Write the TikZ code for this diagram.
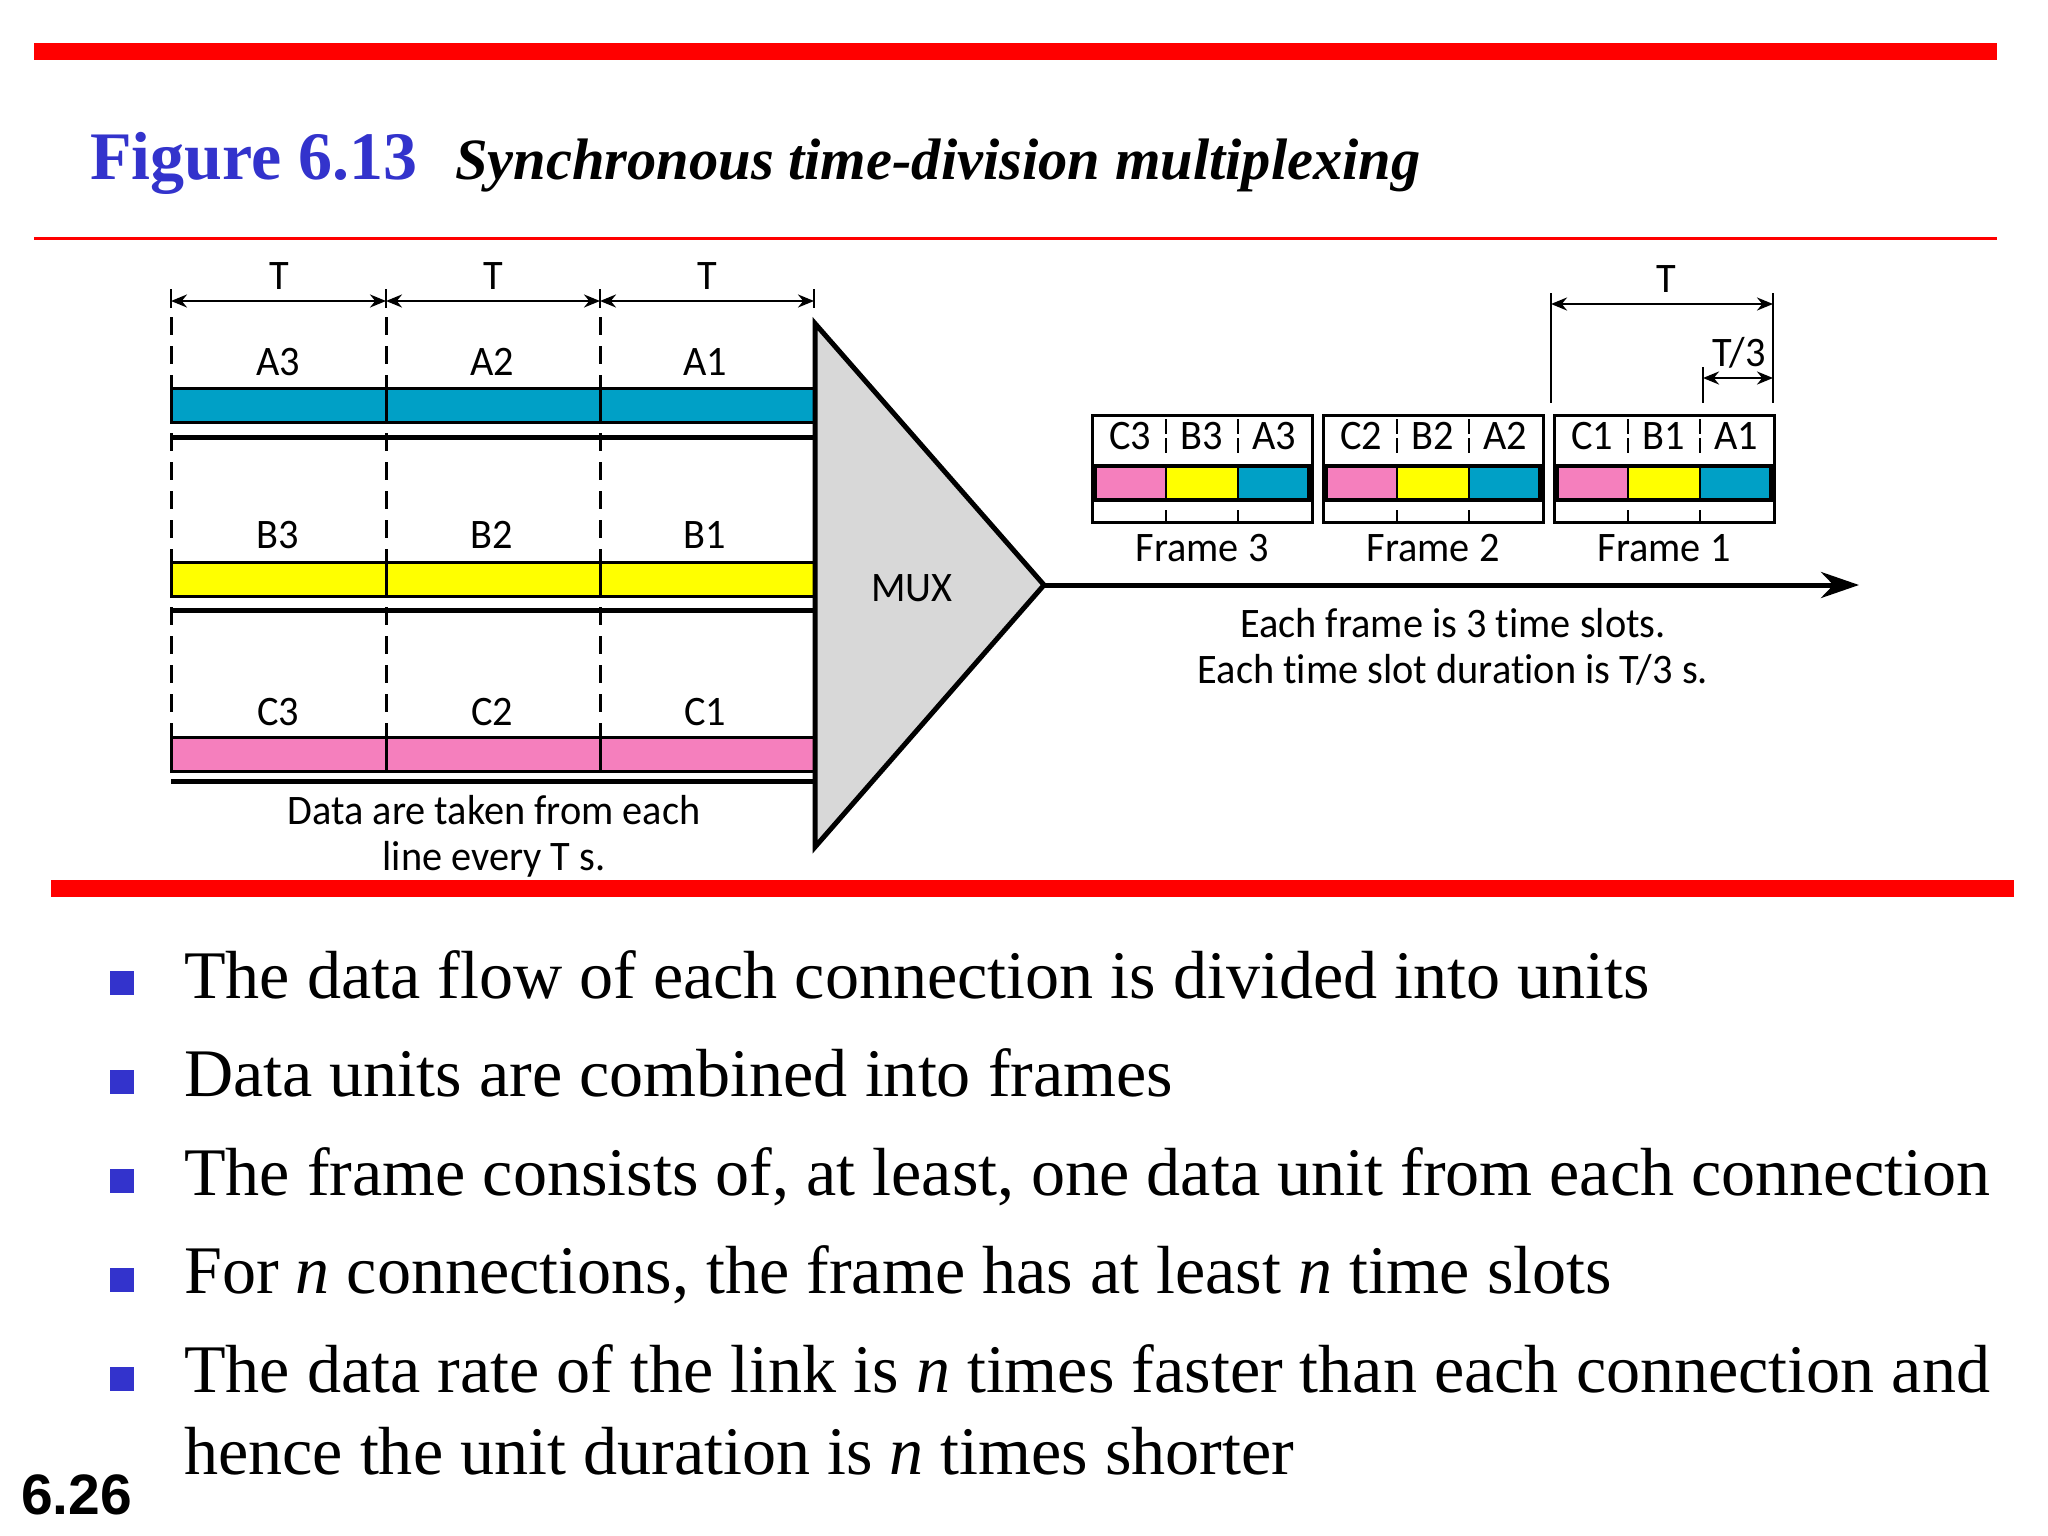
\documentclass[tikz,border=0pt]{standalone}
\usepackage{fontspec}
\setmainfont{Liberation Serif}
\newfontfamily\figfont[FakeStretch=0.96,Ligatures=NoCommon]{Carlito}
\newfontfamily\pagefont{Liberation Sans}
\usetikzlibrary{arrows.meta}
\definecolor{slidered}{HTML}{FF0000}
\definecolor{slideblue}{HTML}{3333CC}
\definecolor{lineA}{HTML}{00A0C6}
\definecolor{lineB}{HTML}{FFFF00}
\definecolor{lineC}{HTML}{F57FBD}
\definecolor{muxgray}{HTML}{D8D8D8}
\tikzset{
  figlabel/.style={inner sep=0pt, anchor=base, font=\figfont\fontsize{42}{48}\selectfont},
  slotlabel/.style={figlabel},
  bulletline/.style={inner sep=0pt, anchor=base west, font=\fontsize{68.1}{76}\selectfont},
  bulletmark/.style={fill=slideblue},
  dimline/.style={line width=2.5pt, {Stealth[length=16pt,width=13pt]}-{Stealth[length=16pt,width=13pt]}},
  guide/.style={line width=2.5pt},
  dashguide/.style={line width=3pt, dash pattern=on 18pt off 11pt},
  barbox/.style={draw, line width=3pt},
  railline/.style={line width=5pt},
  framebox/.style={draw, line width=3pt},
}
\begin{document}
\begin{tikzpicture}[x=1pt,y=-1pt]
  \useasboundingbox (0,0) rectangle (2048,1536);
  % slide rules
  \fill[slidered] (34,43) rectangle (1997,60);
  \fill[slidered] (34,237) rectangle (1997,240);
  \fill[slidered] (51,880) rectangle (2014,897);
  \node[inner sep=0pt, anchor=base west, text=slideblue, font=\bfseries\fontsize{68}{76}\selectfont] (figno) at (90,179) {Figure 6.13};
  \node[inner sep=0pt, anchor=base west, font=\bfseries\itshape\fontsize{58.5}{64}\selectfont] (figtitle) at (455,179) {Synchronous time-division multiplexing};
  % time marks on the input side
  \foreach \i/\x in {0/171,1/386,2/600,3/814} {
    \coordinate (tick\i) at (\x,301);
    \draw[guide] (\x,289) -- (\x,308);
  }
  \foreach \x in {171,386,600} {
    \draw[dashguide] (\x,317) -- (\x,778);
  }
  \foreach \i/\j/\x in {0/1/279,1/2/493,2/3/707} {
    \draw[dimline] (tick\i) -- (tick\j);
    \node[figlabel] (topT\i) at (\x,289) {T};
  }
  % three input lines
  \foreach \name/\col/\ytop/\yrail/\ytxt in {A/lineA/388/437.5/375,B/lineB/562/610/548,C/lineC/737/781/725} {
    \fill[\col] (171,\ytop) rectangle (814,\ytop+34);
    \draw[barbox] (171,\ytop) rectangle (386,\ytop+34);
    \draw[barbox] (386,\ytop) rectangle (600,\ytop+34);
    \draw[barbox] (600,\ytop) rectangle (814,\ytop+34);
    \draw[railline] (171,\yrail) -- (814,\yrail);
    \node[slotlabel] (\name3) at (278,\ytxt) {\name3};
    \node[slotlabel] (\name2) at (492,\ytxt) {\name2};
    \node[slotlabel] (\name1) at (705,\ytxt) {\name1};
  }
  \node[figlabel] (dataA) at (494,824) {Data are taken from each};
  \node[figlabel] (dataB) at (494,870) {line every T s.};
  % multiplexer
  \coordinate (muxA) at (815,323.5);
  \coordinate (muxB) at (815,847);
  \coordinate (muxC) at (1044,585);
  \draw[line width=5pt, fill=muxgray] (muxA) -- (muxC) -- (muxB) -- cycle;
  \node[figlabel] (mux) at (912,601) {MUX};
  % output link
  \coordinate (linkend) at (1859,585);
  \draw[line width=5pt, -{Stealth[length=38pt,width=26pt]}] (muxC) -- (linkend);
  % frames
  \foreach \n/\x/\a/\b/\c in {3/1092/C3/B3/A3,2/1323/C2/B2/A2,1/1554/C1/B1/A1} {
    \draw[framebox] (\x,415.5) rectangle (\x+220,522);
    \fill[lineC] (\x+3,465.5) rectangle (\x+74,500);
    \fill[lineB] (\x+74,465.5) rectangle (\x+146,500);
    \fill[lineA] (\x+146,465.5) rectangle (\x+217,500);
    \draw[line width=4pt] (\x+3,465.5) rectangle (\x+217,500);
    \draw[line width=2.5pt] (\x+74,465.5) -- (\x+74,500) (\x+146,465.5) -- (\x+146,500);
    \draw[line width=2.5pt, dash pattern=on 15pt off 4pt] (\x+74,419) -- (\x+74,455);
    \draw[line width=2.5pt, dash pattern=on 15pt off 4pt] (\x+146,419) -- (\x+146,455);
    \draw[line width=2.5pt] (\x+74,510) -- (\x+74,522) (\x+146,510) -- (\x+146,522);
    \node[slotlabel] at (\x+38,449) {\a};
    \node[slotlabel] at (\x+110,449) {\b};
    \node[slotlabel] at (\x+182,449) {\c};
    \node[figlabel] (frame\n) at (\x+110,561) {Frame \n};
  }
  % duration marks on the output side
  \coordinate (frameL) at (1551,304);
  \coordinate (frameR) at (1773,304);
  \coordinate (slotL) at (1703,378);
  \coordinate (slotR) at (1773,378);
  \draw[guide] (1551,293) -- (1551,403);
  \draw[guide] (1773,293) -- (1773,403);
  \draw[guide] (1703,367) -- (1703,403);
  \draw[dimline] (frameL) -- (frameR);
  \draw[dimline] (slotL) -- (slotR);
  \node[figlabel] (bigT) at (1666,292) {T};
  \node[figlabel] (smallT) at (1739,366) {T/3};
  \node[figlabel] (eachA) at (1453,637) {Each frame is 3 time slots.};
  \node[figlabel] (eachB) at (1453,683) {Each time slot duration is T/3 s.};
  % bullet list
  \foreach \y in {983,1082,1181,1280,1379} {
    \fill[bulletmark] (110,\y-12) rectangle (134,\y+12);
  }
  \node[bulletline] (itemA) at (184,998) {The data flow of each connection is divided into units};
  \node[bulletline] (itemB) at (184,1096) {Data units are combined into frames};
  \node[bulletline] (itemC) at (184,1195) {The frame consists of, at least, one data unit from each connection};
  \node[bulletline] (itemD) at (184,1293) {For \textit{n} connections, the frame has at least \textit{n} time slots};
  \node[bulletline] (itemE) at (184,1392) {The data rate of the link is \textit{n} times faster than each connection and};
  \node[bulletline] (itemF) at (184,1474) {hence the unit duration is \textit{n} times shorter};
  \node[inner sep=0pt, anchor=base west, font=\pagefont\bfseries\fontsize{57}{60}\selectfont] (pageno) at (21,1514) {6.26};
\end{tikzpicture}
\end{document}
